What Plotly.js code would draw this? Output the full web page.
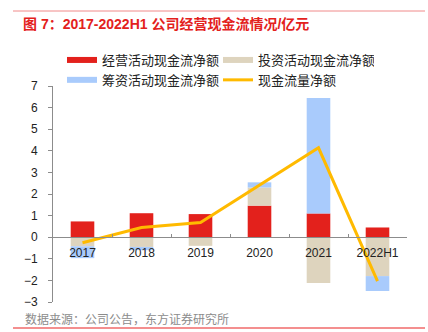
<!DOCTYPE html>
<html>
<head>
<meta charset="utf-8">
<script src="https://cdn.plot.ly/plotly-3.0.1.min.js"></script>
<style>html,body{margin:0;padding:0;background:#fff;}#chart{width:428px;height:332px;}</style>
</head>
<body>
<div id="chart"></div>
<script>
var categories = ['2017', '2018', '2019', '2020', '2021', '2022H1'];
var operatingCF = [0.73, 1.11, 1.07, 1.46, 1.10, 0.45];
var investingCF = [-0.42, -0.45, -0.40, 0.84, -2.12, -1.80];
var financingCF = [-0.55, -0.15, 0.00, 0.24, 5.34, -0.69];
var netCashFlow = [-0.26, 0.45, 0.68, 2.42, 4.14, -2.03];
var seriesNames = ['经营活动现金流净额', '投资活动现金流净额', '筹资活动现金流净额', '现金流量净额'];
var titleText = '图 7：2017-2022H1 公司经营现金流情况/亿元';
var sourceText = '数据来源：公司公告，东方证券研究所';

var colors = ['#E3211C', '#DED4BE', '#A9CBFC', '#FFBA00'];
var FONT = 'Liberation Sans, Arial, Noto Sans CJK SC, sans-serif';

var traces = [];
var barSeries = [operatingCF, investingCF, financingCF];
barSeries.forEach(function (vals, i) {
  traces.push({
    type: 'bar', x: categories, y: vals, name: seriesNames[i],
    marker: {color: colors[i], line: {width: 0}},
    showlegend: false, hoverinfo: 'skip'
  });
});
// legend-only entries (wide flat swatches)
[0, 1, 2].forEach(function (i) {
  traces.push({
    type: 'scatter', mode: 'lines', x: [null], y: [null], name: seriesNames[i],
    line: {color: colors[i], width: 6}, showlegend: true, legendrank: i + 1
  });
});
traces.push({
  type: 'scatter', mode: 'lines', x: categories, y: netCashFlow, name: seriesNames[3],
  line: {color: colors[3], width: 3}, showlegend: true, legendrank: 4
});

var pxX = function (px) { return (px - 53) / 354; };
var pxY = function (py) { return (302 - py) / 216; };

var layout = {
  width: 428, height: 332,
  margin: {l: 53, r: 21, t: 86, b: 30},
  paper_bgcolor: '#fff', plot_bgcolor: '#fff',
  font: {family: FONT, size: 12, color: '#222'},
  barmode: 'relative', bargap: 0.6,
  title: {
    text: titleText, font: {family: FONT, size: 14, color: '#E3211C', weight: 'bold'},
    x: 23 / 428, xref: 'container', xanchor: 'left',
    y: 1 - 24 / 332, yref: 'container', yanchor: 'middle'
  },
  xaxis: {
    type: 'category', range: [-0.5, 5.5],
    anchor: 'free', position: 0.3,
    showline: true, linecolor: '#8C8C8C', linewidth: 1,
    ticks: 'inside', ticklen: 3, tickcolor: '#8C8C8C', tickson: 'boundaries',
    showgrid: false, zeroline: false, ticklabelstandoff: 4,
    tickfont: {family: FONT, size: 12, color: '#222'}
  },
  yaxis: {
    range: [-3, 7], dtick: 1, tick0: 0,
    showline: true, linecolor: '#8C8C8C', linewidth: 1,
    ticks: 'outside', ticklen: 4, tickcolor: '#8C8C8C',
    showgrid: false, zeroline: false,
    ticklabelstandoff: 8,
    tickfont: {family: FONT, size: 12, color: '#222'}
  },
  legend: {
    orientation: 'h', x: pxX(62), xanchor: 'left', y: pxY(45), yanchor: 'top',
    entrywidth: 111, entrywidthmode: 'pixels',
    font: {family: FONT, size: 13, color: '#222'},
    bgcolor: 'rgba(0,0,0,0)', traceorder: 'normal'
  },
  shapes: [
    {type: 'line', xref: 'paper', yref: 'paper', x0: pxX(13), x1: pxX(425), y0: pxY(11), y1: pxY(11),
     line: {color: '#F08A8A', width: 1}},
    {type: 'line', xref: 'paper', yref: 'paper', x0: pxX(13), x1: pxX(425), y0: pxY(328), y1: pxY(328),
     line: {color: '#F06A6A', width: 1.5}}
  ],
  annotations: [
    {text: sourceText, xref: 'paper', yref: 'paper', x: pxX(23), y: pxY(319),
     xanchor: 'left', yanchor: 'middle', showarrow: false,
     font: {family: FONT, size: 12, color: '#8C8C8C'}}
  ]
};

Plotly.newPlot('chart', traces, layout, {displayModeBar: false, staticPlot: true});
</script>
</body>
</html>
